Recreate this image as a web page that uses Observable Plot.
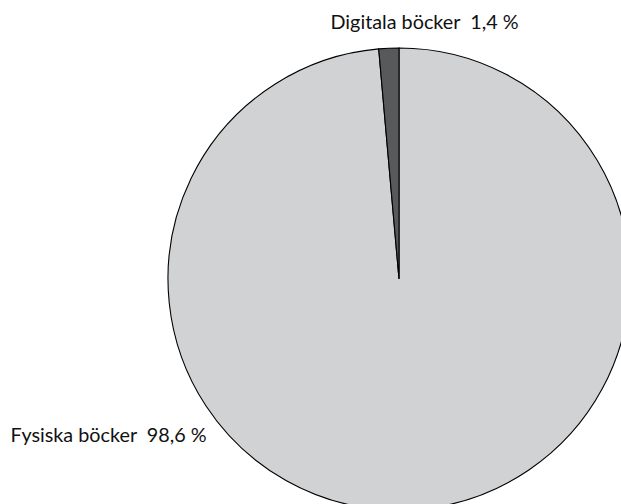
<!DOCTYPE html>
<html>
<head>
<meta charset="utf-8">
<script src="https://cdn.jsdelivr.net/npm/d3@7"></script>
<script src="https://cdn.jsdelivr.net/npm/@observablehq/plot@0.6"></script>
<style>
  html, body { margin: 0; padding: 0; background: #fff; overflow: hidden; }
  #chart svg { overflow: hidden; }
</style>
</head>
<body>
<div id="chart"></div>
<script>
// Data
const categories = ["Fysiska böcker", "Digitala böcker"];
const shares = [98.6, 1.4];
const shareLabels = ["98,6\u00a0%", "1,4\u00a0%"];
const sliceColors = ["#d1d2d4", "#58595b"];

const data = categories.map((c, i) => ({ category: c, share: shares[i], label: c + "\u00a0\u00a0" + shareLabels[i], color: sliceColors[i] }));

const arcs = d3.pie().sort(null).value(d => d.share)(data);

const pieMark = (index, scales, values, dimensions) => {
  const cx = scales.x(0), cy = scales.y(0);
  const r = scales.x(1) - scales.x(0);
  const arc = d3.arc().innerRadius(0).outerRadius(r);
  const g = d3.create("svg:g").attr("transform", `translate(${cx},${cy})`);
  g.selectAll("path").data(arcs).join("path")
    .attr("d", arc)
    .attr("fill", d => d.data.color)
    .attr("stroke", "#000")
    .attr("stroke-width", 1.1)
    .attr("stroke-linejoin", "miter");
  return g.node();
};

const chart = Plot.plot({
  width: 621,
  height: 504,
  margin: 0,
  style: { background: "#fff", fontFamily: "Lato, 'Open Sans', sans-serif" },
  x: { domain: [-1, 1], range: [168, 630], axis: null },
  y: { domain: [-1, 1], range: [510, 48], axis: null },
  marks: [
    Plot.dot([{ x: 0, y: 0 }], { x: "x", y: "y", r: 0, stroke: "none" }),
    pieMark,
    Plot.text([data[1]], { text: "label", frameAnchor: "top-left", textAnchor: "start", lineAnchor: "middle", dx: 330, dy: 22.5, fontSize: 19.8, fill: "#111" }),
    Plot.text([data[0]], { text: "label", frameAnchor: "top-left", textAnchor: "start", lineAnchor: "middle", dx: 10, dy: 435, fontSize: 19.8, fill: "#111" })
  ]
});
document.getElementById("chart").appendChild(chart);
</script>
</body>
</html>
